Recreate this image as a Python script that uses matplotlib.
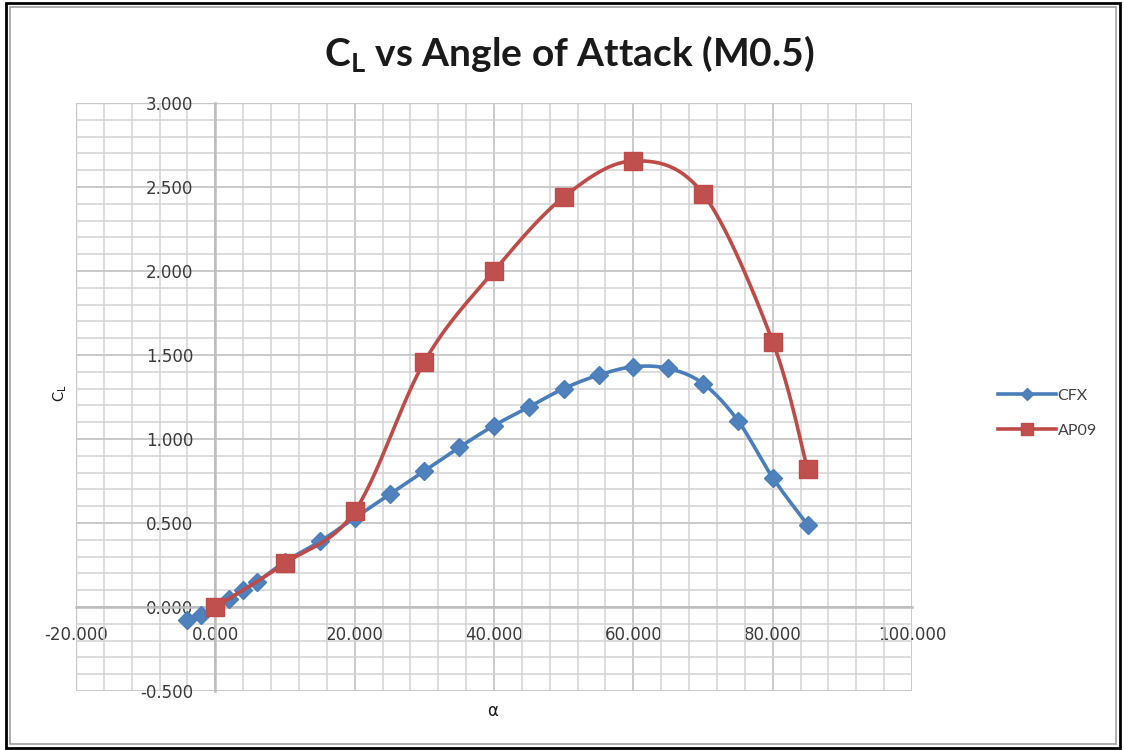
import numpy as np
import matplotlib
matplotlib.use("Agg")
import matplotlib.pyplot as plt
from matplotlib.patches import Rectangle
from matplotlib.ticker import MultipleLocator, FormatStrFormatter

# ---- data ----
cfx_alpha = [-4, -2, 0, 2, 4, 6, 10, 15, 20, 25, 30, 35, 40, 45, 50, 55, 60, 65, 70, 75, 80, 85]
cfx_cl = [-0.08, -0.05, 0.0, 0.05, 0.10, 0.15, 0.27, 0.39, 0.53, 0.67, 0.81, 0.95, 1.08, 1.19,
          1.30, 1.38, 1.43, 1.42, 1.33, 1.11, 0.77, 0.49]
ap09_alpha = [0, 10, 20, 30, 40, 50, 60, 70, 80, 85]
ap09_cl = [0.0, 0.26, 0.57, 1.46, 2.00, 2.44, 2.655, 2.46, 1.58, 0.82]

title_main = "vs Angle of Attack (M0.5)"
x_label = "α"
series_names = ["CFX", "AP09"]

BLUE_LINE = "#4A7EBB"
BLUE_FILL = "#4F81BD"
RED_LINE = "#BE4B48"
RED_FILL = "#C0504D"


def smooth(xs, ys, n=30):
    """Excel-style smoothed line (uniform Catmull-Rom / Bezier)."""
    p = np.column_stack([xs, ys]).astype(float)
    pts = np.array([p[0]] + list(p) + [p[-1]])
    out = []
    for i in range(1, len(pts) - 2):
        p0, p1, p2, p3 = pts[i - 1], pts[i], pts[i + 1], pts[i + 2]
        c1 = p1 + (p2 - p0) / 6.0
        c2 = p2 - (p3 - p1) / 6.0
        t = np.linspace(0, 1, n)[:, None]
        seg = ((1 - t) ** 3) * p1 + 3 * ((1 - t) ** 2) * t * c1 + 3 * (1 - t) * t ** 2 * c2 + t ** 3 * p2
        out.append(seg if i == 1 else seg[1:])
    out = np.vstack(out)
    return out[:, 0], out[:, 1]


plt.rcParams['mathtext.fontset'] = 'custom'
plt.rcParams['mathtext.rm'] = 'Lato'
plt.rcParams['mathtext.bf'] = 'Lato:bold'
plt.rcParams['mathtext.it'] = 'Lato'

W, H = 1124, 750
fig = plt.figure(figsize=(W / 100, H / 100), dpi=100)
L, R, T, B = 76, 912, 103, 691
ax = fig.add_axes([L / W, 1 - B / H, (R - L) / W, (B - T) / H])

ax.set_xlim(-20, 100)
ax.set_ylim(-0.5, 3.0)

ax.xaxis.set_major_locator(MultipleLocator(20))
ax.xaxis.set_minor_locator(MultipleLocator(4))
ax.yaxis.set_major_locator(MultipleLocator(0.5))
ax.yaxis.set_minor_locator(MultipleLocator(0.1))
ax.xaxis.set_major_formatter(FormatStrFormatter('%.3f'))
ax.yaxis.set_major_formatter(FormatStrFormatter('%.3f'))

ax.grid(which='major', color='#c6c6c6', lw=1.3)
ax.grid(which='minor', color='#d3d3d3', lw=1.1)
ax.set_axisbelow(True)

for s in ['top', 'right']:
    ax.spines[s].set_visible(False)
ax.spines['left'].set_position(('data', 0))
ax.spines['bottom'].set_position(('data', 0))
ax.spines['left'].set_color('#bdbdbd')
ax.spines['bottom'].set_color('#bdbdbd')
ax.spines['left'].set_linewidth(1.8)
ax.spines['bottom'].set_linewidth(1.8)
ax.tick_params(which='both', length=0)
ax.tick_params(axis='x', pad=14, labelsize=12, labelcolor='#3a3a3a')
ax.tick_params(axis='y', pad=16, labelsize=12, labelcolor='#3a3a3a')
for lab in ax.get_xticklabels() + ax.get_yticklabels():
    lab.set_fontfamily('DejaVu Sans')

ax.add_patch(Rectangle((0, 0), 1, 1, transform=ax.transAxes, fill=False,
                       ec='#d3d3d3', lw=1.0, zorder=0))

sx, sy = smooth(cfx_alpha, cfx_cl)
ax.plot(sx, sy, color=BLUE_LINE, lw=2.6, zorder=3, solid_capstyle='round')
ax.plot(cfx_alpha, cfx_cl, ls='none', marker='D', ms=9, mfc=BLUE_FILL, mec=BLUE_LINE,
        zorder=4)
rx, ry = smooth(ap09_alpha, ap09_cl)
ax.plot(rx, ry, color=RED_LINE, lw=2.6, zorder=5, solid_capstyle='round')
ax.plot(ap09_alpha, ap09_cl, ls='none', marker='s', ms=13, mfc=RED_FILL, mec=RED_LINE,
        zorder=6)

# legend
h1, = ax.plot([], [], color=BLUE_LINE, lw=2.6, marker='D', ms=6, mfc=BLUE_FILL, mec=BLUE_LINE)
h2, = ax.plot([], [], color=RED_LINE, lw=2.6, marker='s', ms=9, mfc=RED_FILL, mec=RED_LINE)
fig.legend([h1, h2], series_names, loc='center left',
           bbox_to_anchor=(984 / W, 1 - 413 / H), frameon=False,
           handlelength=3.6, handletextpad=0.1, labelspacing=1.3,
           prop={'family': 'Lato', 'size': 11.5}, labelcolor='#404040')

# title
fig.text(569 / W, 1 - 54 / H, r"$\mathbf{C_L}$ " + title_main, ha='center', va='center',
         fontsize=28, fontweight='bold', family='Lato', color='#1a1a1a')
# axis labels
fig.text(60 / W, 1 - 393 / H, r"C$_\mathrm{L}$", rotation=90, ha='center', va='center',
         fontsize=11, family='Lato', color='#1a1a1a')
fig.text(493 / W, 1 - 711 / H, x_label, ha='center', va='center', fontsize=12,
         family='DejaVu Sans', color='#1a1a1a')

# chart border
fig.patches.append(Rectangle((6 / W, 2 / H), 1114 / W, 745 / H, transform=fig.transFigure,
                             fill=False, ec='black', lw=2.0))
fig.patches.append(Rectangle((10 / W, 6 / H), 1106 / W, 737 / H, transform=fig.transFigure,
                             fill=False, ec='#a0a0a0', lw=1.2))

fig.savefig('out.png', dpi=100)
